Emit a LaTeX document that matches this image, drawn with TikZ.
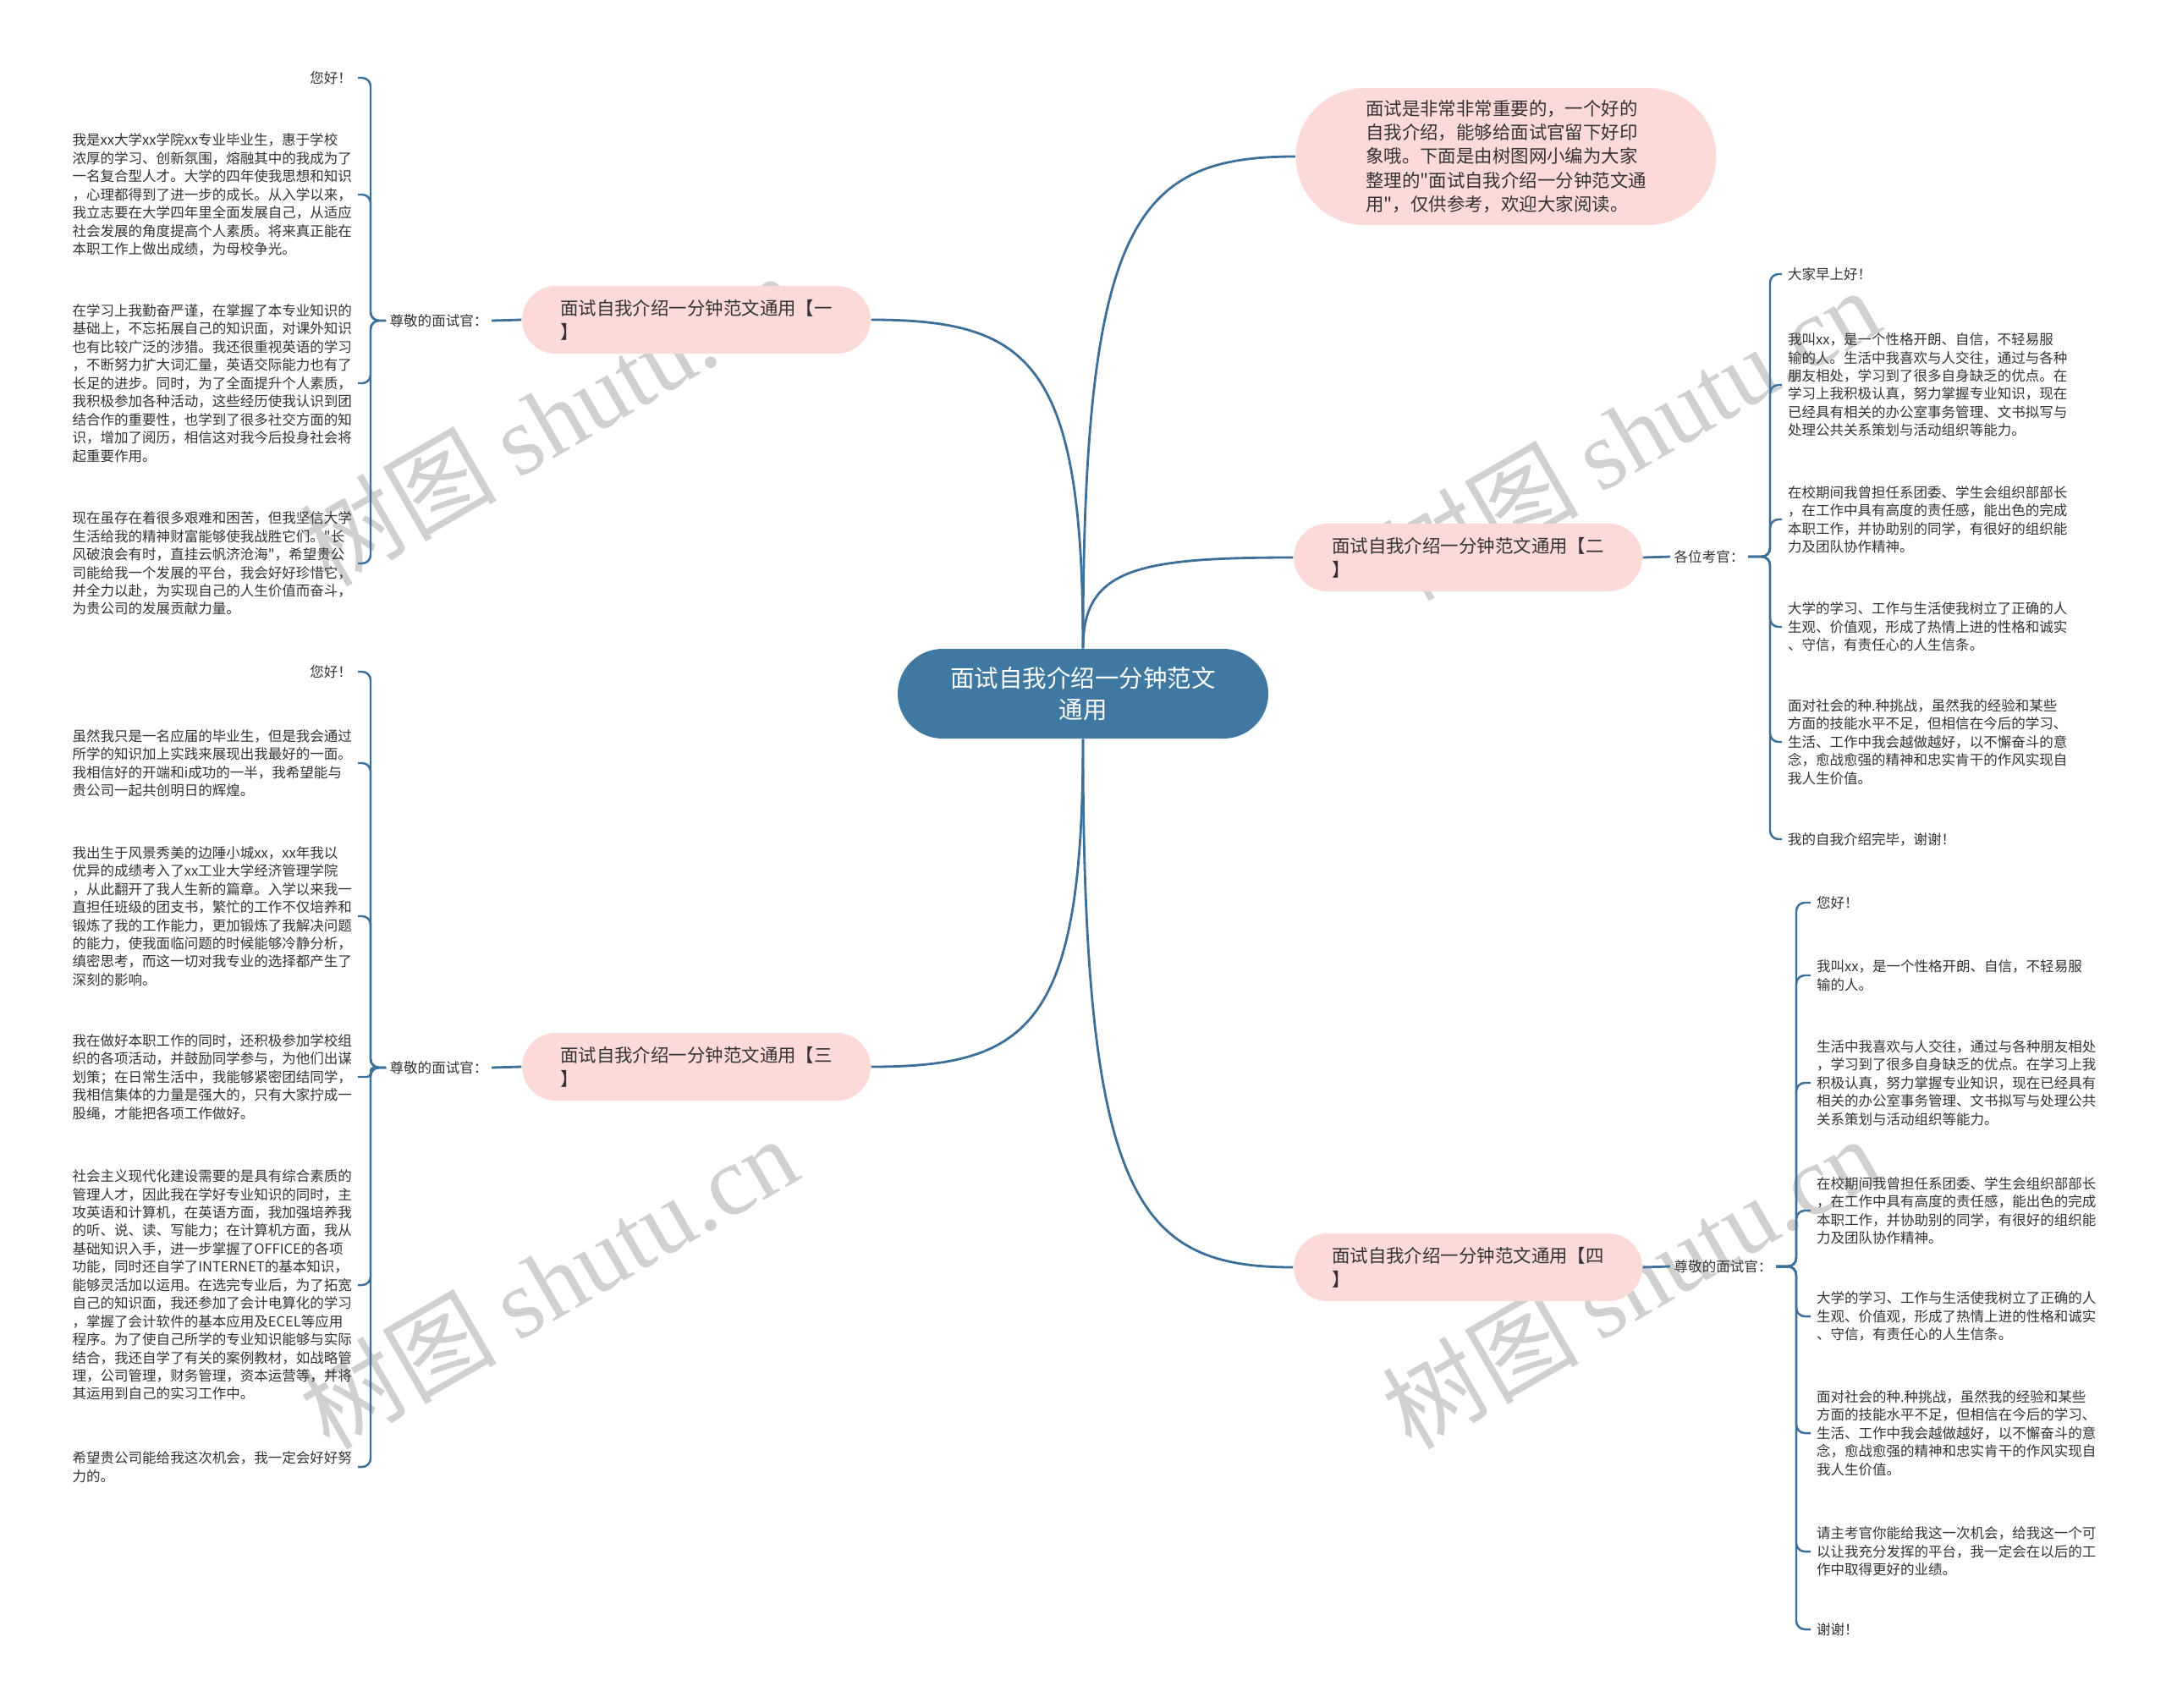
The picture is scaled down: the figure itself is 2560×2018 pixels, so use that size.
\documentclass[tikz,border=0pt]{standalone}
\usepackage{fontspec}
\setmainfont{Noto Sans CJK SC}[Ligatures=TeXOff]
\newfontfamily\wmfont{Liberation Serif}

\definecolor{ctrblue}{HTML}{3F78A0}
\definecolor{linkblue}{HTML}{3C7098}
\definecolor{pinkfill}{HTML}{FCDAD8}
\definecolor{txtgray}{HTML}{333333}
\definecolor{wmgray}{HTML}{D0D0D0}

\newcommand\leaffont{\fontsize{4.7pt}{6.1pt}\selectfont}
\newcommand\branchfont{\fontsize{6.1pt}{8.0pt}\selectfont}
\newcommand\ctrfont{\fontsize{8.1pt}{10.7pt}\selectfont}

\tikzset{
  ctrnode/.style={fill=ctrblue, text=white, font=\ctrfont, align=center,
    rounded corners=5.3mm, minimum width=43.8mm, minimum height=10.6mm},
  branchbox/.style={fill=pinkfill, text=txtgray, font=\branchfont, align=left,
    rounded corners=4mm, minimum width=41.2mm, minimum height=8mm, inner xsep=4.4mm},
  introbox/.style={fill=pinkfill, text=txtgray, font=\branchfont, align=left,
    rounded corners=8.1mm, minimum width=49.7mm, minimum height=16.2mm},
  leaf/.style={text=txtgray, font=\leaffont, align=left, inner sep=0pt,
    outer xsep=0.7mm, outer ysep=0pt},
  lab/.style={text=txtgray, font=\leaffont, inner sep=0.4mm},
  link/.style={draw=linkblue, line width=0.8pt},
  brk/.style={draw=linkblue, line width=0.7pt, rounded corners=1mm},
  wm/.style={text=wmgray, font=\fontsize{33pt}{33pt}\selectfont, rotate=30}
}

\begin{document}
\begin{tikzpicture}[x=0.1mm, y=-0.1mm]
  \useasboundingbox (0,0) rectangle (2560,2018);

  % 水印
  \node[wm] (wm1) at (648,495) {树图 {\wmfont shutu.cn}};
  \node[wm] (wm2) at (648,1515) {树图 {\wmfont shutu.cn}};
  \node[wm] (wm3) at (1927,512) {树图 {\wmfont shutu.cn}};
  \node[wm] (wm4) at (1927,1515) {树图 {\wmfont shutu.cn}};

  % 中心主题与引言
  \node[ctrnode] (ctr) at (1280,820) {面试自我介绍一分钟范文\\通用};
  \node[introbox] (intro) at (1780,185) {面试是非常非常重要的，一个好的\\自我介绍，能够给面试官留下好印\\象哦。下面是由树图网小编为大家\\整理的"面试自我介绍一分钟范文通\\用"，仅供参考，欢迎大家阅读。};

  % 四个分支
  \node[branchbox] (b1) at (823,378) {面试自我介绍一分钟范文通用【一\\】};
  \node[branchbox] (b2) at (1735,659) {面试自我介绍一分钟范文通用【二\\】};
  \node[branchbox] (b3) at (823,1261) {面试自我介绍一分钟范文通用【三\\】};
  \node[branchbox] (b4) at (1735,1498) {面试自我介绍一分钟范文通用【四\\】};

  % 主干曲线
  \draw[link] (ctr.north) .. controls +(0,-506) and +(-188,0) .. (intro.west);
  \draw[link] (ctr.north) .. controls +(0,-338) and +(188,0) .. (b1.east);
  \draw[link] (ctr.north) .. controls +(0,-94) and +(-185,0) .. (b2.west);
  \draw[link] (ctr.south) .. controls +(0,338) and +(188,0) .. (b3.east);
  \draw[link] (ctr.south) .. controls +(0,544) and +(-185,0) .. (b4.west);

  % 称呼
  \node[lab, anchor=west] (lab1) at (456,379) {尊敬的面试官：};
  \node[lab, anchor=west] (lab2) at (1974,658) {各位考官：};
  \node[lab, anchor=west] (lab3) at (456,1262) {尊敬的面试官：};
  \node[lab, anchor=west] (lab4) at (1974,1497) {尊敬的面试官：};
  \draw[link] (b1.west) -- (lab1.east);
  \draw[link] (b2.east) -- (lab2.west);
  \draw[link] (b3.west) -- (lab3.east);
  \draw[link] (b4.east) -- (lab4.west);

  \coordinate (s1) at (438,379);
  \coordinate (s2) at (2092,658);
  \coordinate (s3) at (438,1262);
  \coordinate (s4) at (2123,1497);

  % 分支一
  \node[leaf, anchor=east] (l1a) at (423,92) {您好！};
  \node[leaf, anchor=east] (l1b) at (423,230) {我是xx大学xx学院xx专业毕业生，惠于学校\\浓厚的学习、创新氛围，熔融其中的我成为了\\一名复合型人才。大学的四年使我思想和知识\\，心理都得到了进一步的成长。从入学以来，\\我立志要在大学四年里全面发展自己，从适应\\社会发展的角度提高个人素质。将来真正能在\\本职工作上做出成绩，为母校争光。};
  \node[leaf, anchor=east] (l1c) at (423,453) {在学习上我勤奋严谨，在掌握了本专业知识的\\基础上，不忘拓展自己的知识面，对课外知识\\也有比较广泛的涉猎。我还很重视英语的学习\\，不断努力扩大词汇量，英语交际能力也有了\\长足的进步。同时，为了全面提升个人素质，\\我积极参加各种活动，这些经历使我认识到团\\结合作的重要性，也学到了很多社交方面的知\\识，增加了阅历，相信这对我今后投身社会将\\起重要作用。};
  \node[leaf, anchor=east] (l1d) at (423,666) {现在虽存在着很多艰难和困苦，但我坚信大学\\生活给我的精神财富能够使我战胜它们。"长\\风破浪会有时，直挂云帆济沧海"，希望贵公\\司能给我一个发展的平台，我会好好珍惜它，\\并全力以赴，为实现自己的人生价值而奋斗，\\为贵公司的发展贡献力量。};
  \draw[brk] (lab1.west) -- (s1) |- (l1a.east);
  \draw[brk] (lab1.west) -- (s1) |- (l1b.east);
  \draw[brk] (lab1.west) -- (s1) |- (l1c.east);
  \draw[brk] (lab1.west) -- (s1) |- (l1d.east);

  % 分支二
  \node[leaf, anchor=west] (r2a) at (2106,324) {大家早上好！};
  \node[leaf, anchor=west] (r2b) at (2106,455) {我叫xx，是一个性格开朗、自信，不轻易服\\输的人。生活中我喜欢与人交往，通过与各种\\朋友相处，学习到了很多自身缺乏的优点。在\\学习上我积极认真，努力掌握专业知识，现在\\已经具有相关的办公室事务管理、文书拟写与\\处理公共关系策划与活动组织等能力。};
  \node[leaf, anchor=west] (r2c) at (2106,614) {在校期间我曾担任系团委、学生会组织部部长\\，在工作中具有高度的责任感，能出色的完成\\本职工作，并协助别的同学，有很好的组织能\\力及团队协作精神。};
  \node[leaf, anchor=west] (r2d) at (2106,741) {大学的学习、工作与生活使我树立了正确的人\\生观、价值观，形成了热情上进的性格和诚实\\、守信，有责任心的人生信条。};
  \node[leaf, anchor=west] (r2e) at (2106,877) {面对社会的种.种挑战，虽然我的经验和某些\\方面的技能水平不足，但相信在今后的学习、\\生活、工作中我会越做越好，以不懈奋斗的意\\念，愈战愈强的精神和忠实肯干的作风实现自\\我人生价值。};
  \node[leaf, anchor=west] (r2f) at (2106,992) {我的自我介绍完毕，谢谢！};
  \draw[brk] (lab2.east) -- (s2) |- (r2a.west);
  \draw[brk] (lab2.east) -- (s2) |- (r2b.west);
  \draw[brk] (lab2.east) -- (s2) |- (r2c.west);
  \draw[brk] (lab2.east) -- (s2) |- (r2d.west);
  \draw[brk] (lab2.east) -- (s2) |- (r2e.west);
  \draw[brk] (lab2.east) -- (s2) |- (r2f.west);

  % 分支三
  \node[leaf, anchor=east] (l3a) at (423,794) {您好！};
  \node[leaf, anchor=east] (l3b) at (423,902) {虽然我只是一名应届的毕业生，但是我会通过\\所学的知识加上实践来展现出我最好的一面。\\我相信好的开端和i成功的一半，我希望能与\\贵公司一起共创明日的辉煌。};
  \node[leaf, anchor=east] (l3c) at (423,1083) {我出生于风景秀美的边陲小城xx，xx年我以\\优异的成绩考入了xx工业大学经济管理学院\\，从此翻开了我人生新的篇章。入学以来我一\\直担任班级的团支书，繁忙的工作不仅培养和\\锻炼了我的工作能力，更加锻炼了我解决问题\\的能力，使我面临问题的时候能够冷静分析，\\缜密思考，而这一切对我专业的选择都产生了\\深刻的影响。};
  \node[leaf, anchor=east] (l3d) at (423,1273) {我在做好本职工作的同时，还积极参加学校组\\织的各项活动，并鼓励同学参与，为他们出谋\\划策；在日常生活中，我能够紧密团结同学，\\我相信集体的力量是强大的，只有大家拧成一\\股绳，才能把各项工作做好。};
  \node[leaf, anchor=east] (l3e) at (423,1519) {社会主义现代化建设需要的是具有综合素质的\\管理人才，因此我在学好专业知识的同时，主\\攻英语和计算机，在英语方面，我加强培养我\\的听、说、读、写能力；在计算机方面，我从\\基础知识入手，进一步掌握了OFFICE的各项\\功能，同时还自学了INTERNET的基本知识，\\能够灵活加以运用。在选完专业后，为了拓宽\\自己的知识面，我还参加了会计电算化的学习\\，掌握了会计软件的基本应用及ECEL等应用\\程序。为了使自己所学的专业知识能够与实际\\结合，我还自学了有关的案例教材，如战略管\\理，公司管理，财务管理，资本运营等，并将\\其运用到自己的实习工作中。};
  \node[leaf, anchor=east] (l3f) at (423,1734) {希望贵公司能给我这次机会，我一定会好好努\\力的。};
  \draw[brk] (lab3.west) -- (s3) |- (l3a.east);
  \draw[brk] (lab3.west) -- (s3) |- (l3b.east);
  \draw[brk] (lab3.west) -- (s3) |- (l3c.east);
  \draw[brk, rounded corners=0.4mm] (lab3.west) -- (s3) |- (l3d.east);
  \draw[brk] (lab3.west) -- (s3) |- (l3e.east);
  \draw[brk] (lab3.west) -- (s3) |- (l3f.east);

  % 分支四
  \node[leaf, anchor=west] (r4a) at (2140,1067) {您好！};
  \node[leaf, anchor=west] (r4b) at (2140,1153) {我叫xx，是一个性格开朗、自信，不轻易服\\输的人。};
  \node[leaf, anchor=west] (r4c) at (2140,1280) {生活中我喜欢与人交往，通过与各种朋友相处\\，学习到了很多自身缺乏的优点。在学习上我\\积极认真，努力掌握专业知识，现在已经具有\\相关的办公室事务管理、文书拟写与处理公共\\关系策划与活动组织等能力。};
  \node[leaf, anchor=west] (r4d) at (2140,1431) {在校期间我曾担任系团委、学生会组织部部长\\，在工作中具有高度的责任感，能出色的完成\\本职工作，并协助别的同学，有很好的组织能\\力及团队协作精神。};
  \node[leaf, anchor=west] (r4e) at (2140,1556) {大学的学习、工作与生活使我树立了正确的人\\生观、价值观，形成了热情上进的性格和诚实\\、守信，有责任心的人生信条。};
  \node[leaf, anchor=west] (r4f) at (2140,1694) {面对社会的种.种挑战，虽然我的经验和某些\\方面的技能水平不足，但相信在今后的学习、\\生活、工作中我会越做越好，以不懈奋斗的意\\念，愈战愈强的精神和忠实肯干的作风实现自\\我人生价值。};
  \node[leaf, anchor=west] (r4g) at (2140,1834) {请主考官你能给我这一次机会，给我这一个可\\以让我充分发挥的平台，我一定会在以后的工\\作中取得更好的业绩。};
  \node[leaf, anchor=west] (r4h) at (2140,1926) {谢谢！};
  \draw[brk] (lab4.east) -- (s4) |- (r4a.west);
  \draw[brk] (lab4.east) -- (s4) |- (r4b.west);
  \draw[brk] (lab4.east) -- (s4) |- (r4c.west);
  \draw[brk] (lab4.east) -- (s4) |- (r4d.west);
  \draw[brk] (lab4.east) -- (s4) |- (r4e.west);
  \draw[brk] (lab4.east) -- (s4) |- (r4f.west);
  \draw[brk] (lab4.east) -- (s4) |- (r4g.west);
  \draw[brk] (lab4.east) -- (s4) |- (r4h.west);
\end{tikzpicture}
\end{document}
